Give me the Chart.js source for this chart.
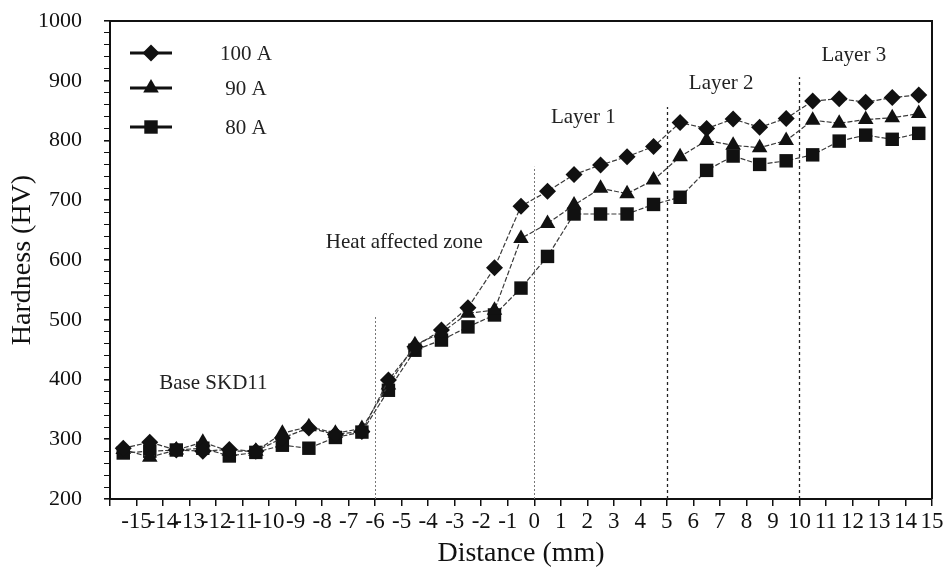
<!DOCTYPE html>
<html lang="en">
<head>
    <meta charset="UTF-8">
    <title>Hardness profile across the weld</title>
    <script src="https://cdn.jsdelivr.net/npm/chart.js"></script>
    <style>
        html, body { margin: 0; padding: 0; background: #fff; }
        #chart-container { width: 952px; height: 574px; }
        canvas { display: block; }
    </style>
</head>
<body>
    <div id="chart-container">
        <canvas id="myChart" width="952" height="574"></canvas>
    </div>

    <script>
        // Measurement positions (mm), readings taken mid-way between ticks
        const distance = [-15.5, -14.5, -13.5, -12.5, -11.5, -10.5, -9.5, -8.5, -7.5, -6.5,
                          -5.5, -4.5, -3.5, -2.5, -1.5, -0.5, 0.5, 1.5, 2.5, 3.5,
                          4.5, 5.5, 6.5, 7.5, 8.5, 9.5, 10.5, 11.5, 12.5, 13.5, 14.5];

        // Hardness (HV) for each welding current
        const hv100A = [285, 295, 282, 280, 283, 280, 302, 319, 308, 313,
                        399, 455, 483, 520, 587, 690, 715, 743, 759, 773,
                        790, 830, 820, 836, 822, 837, 866, 870, 864, 872, 876];
        const hv90A = [283, 270, 282, 295, 280, 280, 310, 321, 310, 318,
                       391, 458, 478, 511, 516, 636, 661, 692, 720, 711,
                       734, 773, 800, 792, 788, 800, 834, 829, 835, 838, 845];
        const hv80A = [277, 280, 282, 285, 272, 278, 290, 285, 303, 312,
                       382, 449, 466, 488, 508, 553, 606, 677, 677, 677,
                       693, 705, 750, 774, 760, 766, 776, 799, 809, 802, 812];

        const seriesLabels = ['100 A', '90 A', '80 A'];

        // Zone boundaries (mm) and how high each marker line reaches (HV)
        const zoneBounds = [-6, 0, 5, 10];
        const zoneTops = [508, 756, 856, 906];
        const zoneLabels = ['Base SKD11', 'Heat affected zone', 'Layer 1', 'Layer 2', 'Layer 3'];

        const serif = "'Liberation Serif', 'Times New Roman', serif";
        const ink = '#111';

        function makeSeries(label, values, style, radius) {
            return {
                label: label,
                data: distance.map((d, i) => ({ x: d, y: values[i] })),
                borderColor: '#3a3a3a',
                borderWidth: 1.2,
                borderDash: [5, 2],
                pointStyle: style,
                pointRadius: radius,
                pointHoverRadius: radius,
                pointBackgroundColor: ink,
                pointBorderColor: ink,
                pointBorderWidth: 0,
                fill: false,
                tension: 0
            };
        }

        // small marker shapes for the hand-drawn legend
        function drawMarker(ctx, style, x, y, r) {
            ctx.beginPath();
            if (style === 'rectRot') {
                ctx.moveTo(x, y - r); ctx.lineTo(x + r, y); ctx.lineTo(x, y + r); ctx.lineTo(x - r, y);
            } else if (style === 'triangle') {
                ctx.moveTo(x, y - r);
                ctx.lineTo(x + r * 0.866, y + r * 0.5);
                ctx.lineTo(x - r * 0.866, y + r * 0.5);
            } else {
                const s = r * Math.SQRT1_2;
                ctx.rect(x - s, y - s, 2 * s, 2 * s);
            }
            ctx.closePath();
            ctx.fill();
        }

        const decorations = {
            id: 'decorations',
            beforeDatasetsDraw(chart) {
                const { ctx, scales: { x, y } } = chart;
                ctx.save();
                zoneBounds.forEach((b, i) => {
                    const px = Math.round(x.getPixelForValue(b)) + 0.5;
                    ctx.beginPath();
                    ctx.lineWidth = i < 2 ? 1 : 1.3;
                    ctx.strokeStyle = i < 2 ? '#777' : '#222';
                    ctx.setLineDash(i < 2 ? [2, 2] : [3, 3]);
                    ctx.moveTo(px, y.getPixelForValue(200));
                    ctx.lineTo(px, y.getPixelForValue(zoneTops[i]));
                    ctx.stroke();
                });
                ctx.setLineDash([]);

                // zone names, placed in data units
                const spots = [[-12.1, 394], [-4.9, 630], [1.85, 839], [7.05, 896], [12.05, 943]];
                ctx.fillStyle = '#222';
                ctx.font = '21px ' + serif;
                ctx.textAlign = 'center';
                ctx.textBaseline = 'middle';
                zoneLabels.forEach((t, i) => {
                    ctx.fillText(t, x.getPixelForValue(spots[i][0]), y.getPixelForValue(spots[i][1]));
                });
                ctx.restore();
            },
            afterDraw(chart) {
                const { ctx, chartArea: a } = chart;
                ctx.save();
                // box around the plot
                ctx.strokeStyle = ink;
                ctx.lineWidth = 2;
                ctx.beginPath();
                ctx.moveTo(a.left, a.top);
                ctx.lineTo(a.right, a.top);
                ctx.lineTo(a.right, a.bottom);
                ctx.stroke();

                // legend: line with marker, then the label
                const rows = [53, 88, 127];
                chart.data.datasets.forEach((ds, i) => {
                    const yy = rows[i];
                    ctx.strokeStyle = ink;
                    ctx.fillStyle = ink;
                    ctx.lineWidth = 3;
                    ctx.beginPath();
                    ctx.moveTo(130, yy);
                    ctx.lineTo(172, yy);
                    ctx.stroke();
                    drawMarker(ctx, ds.pointStyle, 151, yy, ds.pointRadius);
                    ctx.font = '21px ' + serif;
                    ctx.textAlign = 'center';
                    ctx.textBaseline = 'middle';
                    ctx.fillStyle = '#222';
                    ctx.fillText(ds.label, 246, yy + 1);
                });
                ctx.restore();
            }
        };

        const ctx = document.getElementById('myChart').getContext('2d');
        new Chart(ctx, {
            type: 'line',
            data: {
                datasets: [
                    makeSeries(seriesLabels[0], hv100A, 'rectRot', 8.5),
                    makeSeries(seriesLabels[1], hv90A, 'triangle', 9),
                    makeSeries(seriesLabels[2], hv80A, 'rect', 9.5)
                ]
            },
            options: {
                responsive: false,
                animation: false,
                events: [],
                layout: { padding: { left: 0, right: 20, top: 21, bottom: 0 } },
                plugins: {
                    legend: { display: false },
                    tooltip: { enabled: false }
                },
                scales: {
                    x: {
                        type: 'linear',
                        min: -16,
                        max: 15,
                        afterFit: (scale) => { scale.height = 75; },
                        ticks: {
                            stepSize: 1,
                            autoSkip: false,
                            maxRotation: 0,
                            minRotation: 0,
                            padding: 2,
                            color: ink,
                            font: { family: serif, size: 23 },
                            callback: (v) => (v === -16 ? '' : v)
                        },
                        grid: { drawOnChartArea: false, tickLength: 7, color: ink, lineWidth: 1.5 },
                        border: { color: ink, width: 2 },
                        title: {
                            display: true,
                            text: 'Distance (mm)',
                            color: ink,
                            font: { family: serif, size: 28 },
                            padding: { top: 0, bottom: 4 }
                        }
                    },
                    y: {
                        min: 200,
                        max: 1000,
                        afterFit: (scale) => {
                            scale.width = 110;
                            // keep the plot top fixed; labels may overhang
                            scale.paddingTop = 0;
                            scale.paddingBottom = 0;
                        },
                        ticks: {
                            stepSize: 20,
                            autoSkip: false,
                            padding: 22,
                            color: ink,
                            font: { family: serif, size: 22 },
                            callback: (v) => (v % 100 === 0 ? v : '')
                        },
                        grid: {
                            drawOnChartArea: false,
                            tickLength: 6,
                            color: ink,
                            lineWidth: (c) => (c.tick && c.tick.value % 100 === 0 ? 1.6 : 1)
                        },
                        border: { color: ink, width: 2 },
                        title: {
                            display: true,
                            text: 'Hardness (HV)',
                            color: ink,
                            font: { family: serif, size: 28 },
                            padding: { top: 6, bottom: 0 }
                        }
                    }
                }
            },
            plugins: [decorations]
        });
    </script>
</body>
</html>
